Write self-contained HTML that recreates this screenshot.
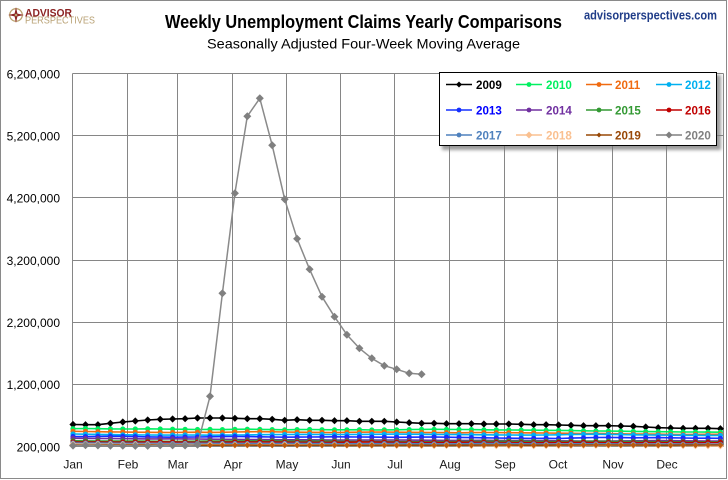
<!DOCTYPE html>
<html>
<head>
<meta charset="utf-8">
<style>
  html,body{margin:0;padding:0;background:#fff;}
  svg{display:block;}
  text{font-family:"Liberation Sans", Arial, sans-serif;}
</style>
</head>
<body>
<svg width="728" height="480" viewBox="0 0 728 480" xmlns="http://www.w3.org/2000/svg">
  <defs>
    <marker id="mk0" viewBox="-5 -5 10 10" refX="0" refY="0" markerWidth="10" markerHeight="10" markerUnits="userSpaceOnUse"><path d="M0,-3.6L3.6,0L0,3.6L-3.6,0Z" fill="#000"/></marker>
    <marker id="mk1" viewBox="-5 -5 10 10" refX="0" refY="0" markerWidth="10" markerHeight="10" markerUnits="userSpaceOnUse"><circle r="2.6" fill="#00F060"/></marker>
    <marker id="mk2" viewBox="-5 -5 10 10" refX="0" refY="0" markerWidth="10" markerHeight="10" markerUnits="userSpaceOnUse"><circle r="2.6" fill="#F06A10"/></marker>
    <marker id="mk3" viewBox="-5 -5 10 10" refX="0" refY="0" markerWidth="10" markerHeight="10" markerUnits="userSpaceOnUse"><circle r="2.6" fill="#00B0F0"/></marker>
    <marker id="mk4" viewBox="-5 -5 10 10" refX="0" refY="0" markerWidth="10" markerHeight="10" markerUnits="userSpaceOnUse"><circle r="2.6" fill="#1530FF"/></marker>
    <marker id="mk5" viewBox="-5 -5 10 10" refX="0" refY="0" markerWidth="10" markerHeight="10" markerUnits="userSpaceOnUse"><circle r="2.6" fill="#7030A0"/></marker>
    <marker id="mk6" viewBox="-5 -5 10 10" refX="0" refY="0" markerWidth="10" markerHeight="10" markerUnits="userSpaceOnUse"><circle r="2.6" fill="#339933"/></marker>
    <marker id="mk7" viewBox="-5 -5 10 10" refX="0" refY="0" markerWidth="10" markerHeight="10" markerUnits="userSpaceOnUse"><circle r="2.6" fill="#C00000"/></marker>
    <marker id="mk8" viewBox="-5 -5 10 10" refX="0" refY="0" markerWidth="10" markerHeight="10" markerUnits="userSpaceOnUse"><circle r="2.6" fill="#4F81BD"/></marker>
    <marker id="mk9" viewBox="-5 -5 10 10" refX="0" refY="0" markerWidth="10" markerHeight="10" markerUnits="userSpaceOnUse"><path d="M0,-3.6L3.6,0L0,3.6L-3.6,0Z" fill="#FAC090"/></marker>
    <marker id="mk10" viewBox="-5 -5 10 10" refX="0" refY="0" markerWidth="10" markerHeight="10" markerUnits="userSpaceOnUse"><path d="M0,-3L3,0L0,3L-3,0Z" fill="#B85A10"/></marker>
    <marker id="mk11" viewBox="-5 -5 10 10" refX="0" refY="0" markerWidth="10" markerHeight="10" markerUnits="userSpaceOnUse"><path d="M0,-4L4,0L0,4L-4,0Z" fill="#808080"/></marker>
    <filter id="shadow" x="-10%" y="-20%" width="130%" height="160%"><feGaussianBlur stdDeviation="1.6"/></filter>
  </defs>

  <!-- outer border -->
  <rect x="0.5" y="0.5" width="726" height="478" fill="#fff" stroke="#8a8a8a" stroke-width="1"/>

  <!-- logo -->
  <g>
    <circle cx="16" cy="15" r="6.3" fill="none" stroke="#BBA271" stroke-width="1.3"/>
    <path d="M16,7 L17.4,13.6 L24,15 L17.4,16.4 L16,23 L14.6,16.4 L8,15 L14.6,13.6Z" fill="#8C2323"/>
    <circle cx="16" cy="15" r="1.3" fill="#BBA271"/>
    <text x="25" y="16.3" font-size="10.6" font-weight="bold" fill="#8C2323" textLength="47" lengthAdjust="spacingAndGlyphs">ADVISOR</text>
    <text x="25" y="23.6" font-size="10.2" fill="#B9A275" textLength="70" lengthAdjust="spacingAndGlyphs">PERSPECTIVES</text>
  </g>

  <!-- titles -->
  <text x="363.5" y="28" font-size="18" font-weight="bold" fill="#000" text-anchor="middle" textLength="397" lengthAdjust="spacingAndGlyphs">Weekly Unemployment Claims Yearly Comparisons</text>
  <text x="363.5" y="48.5" font-size="14" fill="#000" text-anchor="middle" textLength="313" lengthAdjust="spacingAndGlyphs">Seasonally Adjusted Four-Week Moving Average</text>
  <text x="584" y="19.5" font-size="13" font-weight="bold" fill="#1F3C88" textLength="133" lengthAdjust="spacingAndGlyphs">advisorperspectives.com</text>

  <!-- gridlines -->
  <g stroke="#868686" stroke-width="1" fill="none">
    <line x1="72.5" y1="73.5" x2="723.5" y2="73.5"/>
    <line x1="72.5" y1="135.5" x2="723.5" y2="135.5"/>
    <line x1="72.5" y1="197.5" x2="723.5" y2="197.5"/>
    <line x1="72.5" y1="260.5" x2="723.5" y2="260.5"/>
    <line x1="72.5" y1="322.5" x2="723.5" y2="322.5"/>
    <line x1="72.5" y1="384.5" x2="723.5" y2="384.5"/>
    <line x1="72.5" y1="446.5" x2="723.5" y2="446.5"/>
    <line x1="72.5" y1="73.5" x2="72.5" y2="446.5"/>
    <line x1="127.5" y1="73.5" x2="127.5" y2="446.5"/>
    <line x1="177.5" y1="73.5" x2="177.5" y2="446.5"/>
    <line x1="232.5" y1="73.5" x2="232.5" y2="446.5"/>
    <line x1="286.5" y1="73.5" x2="286.5" y2="446.5"/>
    <line x1="340.5" y1="73.5" x2="340.5" y2="446.5"/>
    <line x1="394.5" y1="73.5" x2="394.5" y2="446.5"/>
    <line x1="449.5" y1="73.5" x2="449.5" y2="446.5"/>
    <line x1="504.5" y1="73.5" x2="504.5" y2="446.5"/>
    <line x1="557.5" y1="73.5" x2="557.5" y2="446.5"/>
    <line x1="612.5" y1="73.5" x2="612.5" y2="446.5"/>
    <line x1="666.5" y1="73.5" x2="666.5" y2="446.5"/>
    <line x1="723.5" y1="73.5" x2="723.5" y2="446.5"/>
  </g>

  <!-- y labels -->
  <g font-size="12" fill="#000" text-anchor="end">
    <text x="60" y="78.5">6,200,000</text>
    <text x="60" y="140.5">5,200,000</text>
    <text x="60" y="202.5">4,200,000</text>
    <text x="60" y="265">3,200,000</text>
    <text x="60" y="327">2,200,000</text>
    <text x="60" y="389">1,200,000</text>
    <text x="60" y="451.5">200,000</text>
  </g>

  <!-- x labels -->
  <g font-size="12" fill="#1a1a1a" text-anchor="middle">
    <text x="73" y="468.5">Jan</text>
    <text x="128" y="468.5">Feb</text>
    <text x="178" y="468.5">Mar</text>
    <text x="233" y="468.5">Apr</text>
    <text x="287" y="468.5">May</text>
    <text x="341" y="468.5">Jun</text>
    <text x="395" y="468.5">Jul</text>
    <text x="450" y="468.5">Aug</text>
    <text x="505" y="468.5">Sep</text>
    <text x="558" y="468.5">Oct</text>
    <text x="613" y="468.5">Nov</text>
    <text x="667" y="468.5">Dec</text>
  </g>

  <!-- series -->
  <g fill="none" stroke-linejoin="round">
    <polyline stroke="#000" stroke-width="1.6" marker-start="url(#mk0)" marker-mid="url(#mk0)" marker-end="url(#mk0)" points="73,424.5 85.5,424.7 97.9,424.7 110.4,423.3 122.8,422 135.3,421 147.7,420 160.2,419.3 172.6,419 185.1,418.7 197.5,418 210,418 222.4,418 234.9,418.3 247.3,418.7 259.8,418.7 272.2,419.3 284.7,420.3 297.1,419.7 309.6,420.3 322,420.3 334.5,420.7 346.9,420.7 359.4,421.3 371.8,421.3 384.3,421.3 396.7,422 409.2,422.7 421.6,423.3 434.1,423.3 446.5,423.7 459,423.7 471.4,423.7 483.9,424 496.3,424 508.8,424 521.2,424.3 533.7,424.7 546.1,424.7 558.6,425 571,425.3 583.5,425.7 595.9,425.7 608.4,425.7 620.8,426 633.3,426.3 645.7,427 658.2,427.7 670.6,428 683.1,428.3 695.5,428.3 708,428.3 720.4,428.7"/>
    <polyline stroke="#00F060" stroke-width="1.6" marker-start="url(#mk1)" marker-mid="url(#mk1)" marker-end="url(#mk1)" points="73,428.7 85.5,428.5 97.9,428.7 110.4,428.9 122.8,429 135.3,429 147.7,428.8 160.2,429 172.6,429.2 185.1,429.3 197.5,429.5 210,429.4 222.4,429.6 234.9,429.3 247.3,429.2 259.8,429.4 272.2,429.6 284.7,429.8 297.1,429.6 309.6,429.5 322,429.7 334.5,429.8 346.9,429.8 359.4,429.7 371.8,430 384.3,429.9 396.7,429.8 409.2,429.6 421.6,429.4 434.1,429.3 446.5,429.4 459,429.5 471.4,429.6 483.9,429.8 496.3,429.9 508.8,430 521.2,430.1 533.7,430.2 546.1,430.3 558.6,430.4 571,430.6 583.5,430.8 595.9,431 608.4,431.1 620.8,431.2 633.3,431.4 645.7,431.6 658.2,431.7 670.6,431.8 683.1,432 695.5,432 708,432.1 720.4,432.2"/>
    <polyline stroke="#F06A10" stroke-width="1.6" marker-start="url(#mk2)" marker-mid="url(#mk2)" marker-end="url(#mk2)" points="73,431.3 85.5,431.5 97.9,431.7 110.4,431.9 122.8,432 135.3,432.2 147.7,432.3 160.2,432.4 172.6,432.5 185.1,432.3 197.5,432.2 210,432.4 222.4,432.3 234.9,432 247.3,431.8 259.8,431.7 272.2,431.8 284.7,432 297.1,432.2 309.6,432.3 322,432.4 334.5,432.5 346.9,432.3 359.4,432.2 371.8,432.1 384.3,432 396.7,432.2 409.2,432.3 421.6,432.4 434.1,432.5 446.5,432.6 459,432.8 471.4,432.6 483.9,432.5 496.3,432.6 508.8,432.7 521.2,432.8 533.7,432.9 546.1,433 558.6,433.2 571,433.3 583.5,433.5 595.9,433.4 608.4,433.6 620.8,433.8 633.3,434 645.7,434.1 658.2,434.2 670.6,434.4 683.1,434.5 695.5,434.4 708,434.3 720.4,434.3"/>
    <polyline stroke="#00B0F0" stroke-width="1.6" marker-start="url(#mk3)" marker-mid="url(#mk3)" marker-end="url(#mk3)" points="73,434 85.5,434.2 97.9,434.4 110.4,434.6 122.8,434.8 135.3,434.9 147.7,435 160.2,435.1 172.6,435.1 185.1,435 197.5,435.1 210,435.2 222.4,435.1 234.9,435 247.3,434.9 259.8,434.7 272.2,434.6 284.7,434.5 297.1,434.4 309.6,434.4 322,434.5 334.5,434.6 346.9,434.5 359.4,434.4 371.8,434.3 384.3,434.2 396.7,434.1 409.2,434.2 421.6,434.3 434.1,434.4 446.5,434.5 459,434.6 471.4,434.7 483.9,434.8 496.3,434.9 508.8,435 521.2,435.1 533.7,435.1 546.1,435 558.6,434.8 571,434.5 583.5,434.3 595.9,434.2 608.4,434.4 620.8,434.6 633.3,434.8 645.7,435 658.2,435.1 670.6,435.2 683.1,435.3 695.5,435.3 708,435.4 720.4,435.4"/>
    <polyline stroke="#1530FF" stroke-width="1.6" marker-start="url(#mk4)" marker-mid="url(#mk4)" marker-end="url(#mk4)" points="73,436.5 85.5,436.6 97.9,436.4 110.4,436.2 122.8,436.3 135.3,436.6 147.7,436.9 160.2,437.1 172.6,437.2 185.1,437.1 197.5,437 210,436.8 222.4,436.6 234.9,436.5 247.3,436.6 259.8,436.8 272.2,437 284.7,437.2 297.1,437.1 309.6,437 322,436.9 334.5,436.8 346.9,436.9 359.4,437 371.8,437.1 384.3,437.2 396.7,437.3 409.2,437.2 421.6,437.1 434.1,437 446.5,437.2 459,437.4 471.4,437.6 483.9,437.8 496.3,438 508.8,438.2 521.2,438.3 533.7,438.4 546.1,438.3 558.6,438.5 571,438.1 583.5,437.8 595.9,437.5 608.4,437.4 620.8,437.6 633.3,437.8 645.7,437.7 658.2,437.6 670.6,437.8 683.1,438 695.5,438.2 708,438.2 720.4,438.3"/>
    <polyline stroke="#7030A0" stroke-width="1.6" marker-start="url(#mk5)" marker-mid="url(#mk5)" marker-end="url(#mk5)" points="73,438.2 85.5,438.4 97.9,438.5 110.4,438.6 122.8,438.7 135.3,438.8 147.7,438.9 160.2,438.9 172.6,438.8 185.1,438.9 197.5,439 210,439.2 222.4,439.3 234.9,439.4 247.3,439.5 259.8,439.6 272.2,439.7 284.7,439.8 297.1,439.8 309.6,439.8 322,439.9 334.5,440 346.9,440 359.4,440.1 371.8,440.1 384.3,440 396.7,440 409.2,440.1 421.6,440.2 434.1,440.3 446.5,440.4 459,440.4 471.4,440.4 483.9,440.3 496.3,440.4 508.8,440.5 521.2,440.6 533.7,440.7 546.1,440.7 558.6,440.8 571,440.9 583.5,441 595.9,441 608.4,441 620.8,440.9 633.3,440.8 645.7,440.7 658.2,440.6 670.6,440.7 683.1,440.8 695.5,440.9 708,441 720.4,441"/>
    <polyline stroke="#339933" stroke-width="1.6" marker-start="url(#mk6)" marker-mid="url(#mk6)" marker-end="url(#mk6)" points="73,440.8 85.5,440.9 97.9,441 110.4,441 122.8,441.1 135.3,441.1 147.7,441.2 160.2,441.3 172.6,441.4 185.1,441.3 197.5,441.2 210,441.1 222.4,441.1 234.9,441 247.3,440.9 259.8,440.9 272.2,441 284.7,441.1 297.1,441.2 309.6,441.2 322,441.2 334.5,441.3 346.9,441.4 359.4,441.5 371.8,441.5 384.3,441.6 396.7,441.6 409.2,441.7 421.6,441.8 434.1,441.8 446.5,441.6 459,441.5 471.4,441.4 483.9,441.3 496.3,441.3 508.8,441.3 521.2,441.4 533.7,441.5 546.1,441.6 558.6,441.5 571,441.4 583.5,441.3 595.9,441.3 608.4,441.4 620.8,441.5 633.3,441.6 645.7,441.6 658.2,441.7 670.6,441.7 683.1,441.8 695.5,441.8 708,441.8 720.4,441.9"/>
    <polyline stroke="#C00000" stroke-width="1.6" marker-start="url(#mk7)" marker-mid="url(#mk7)" marker-end="url(#mk7)" points="73,442 85.5,442.1 97.9,442.1 110.4,442.2 122.8,442.2 135.3,442.1 147.7,442 160.2,442 172.6,442.1 185.1,442.2 197.5,442.3 210,442.3 222.4,442.2 234.9,442.1 247.3,442 259.8,442 272.2,442.1 284.7,442.2 297.1,442.3 309.6,442.3 322,442.4 334.5,442.3 346.9,442.2 359.4,442.1 371.8,442.1 384.3,442.2 396.7,442.3 409.2,442.4 421.6,442.5 434.1,442.5 446.5,442.4 459,442.3 471.4,442.3 483.9,442.4 496.3,442.5 508.8,442.6 521.2,442.7 533.7,442.7 546.1,442.6 558.6,442.5 571,442.4 583.5,442.4 595.9,442.5 608.4,442.6 620.8,442.7 633.3,442.7 645.7,442.6 658.2,442.5 670.6,442.5 683.1,442.6 695.5,442.6 708,442.5 720.4,442.5"/>
    <polyline stroke="#4F81BD" stroke-width="1.6" marker-start="url(#mk8)" marker-mid="url(#mk8)" marker-end="url(#mk8)" points="73,443 85.5,443 97.9,443.1 110.4,443.2 122.8,443.3 135.3,443.3 147.7,443.4 160.2,443.5 172.6,443.5 185.1,443.4 197.5,443.3 210,443.3 222.4,443.4 234.9,443.5 247.3,443.6 259.8,443.6 272.2,443.5 284.7,443.4 297.1,443.4 309.6,443.5 322,443.6 334.5,443.7 346.9,443.8 359.4,443.8 371.8,443.7 384.3,443.6 396.7,443.6 409.2,443.7 421.6,443.8 434.1,443.9 446.5,443.9 459,443.8 471.4,443.7 483.9,443.6 496.3,443.6 508.8,443.7 521.2,443.8 533.7,443.9 546.1,444 558.6,444 571,443.9 583.5,443.8 595.9,443.8 608.4,443.9 620.8,444 633.3,444.1 645.7,444.1 658.2,444 670.6,444 683.1,444.1 695.5,444.2 708,444.2 720.4,444.3"/>
    <polyline stroke="#FAC090" stroke-width="1.8" marker-start="url(#mk9)" marker-mid="url(#mk9)" marker-end="url(#mk9)" points="73,444.3 85.5,444.4 97.9,444.4 110.4,444.5 122.8,444.6 135.3,444.6 147.7,444.7 160.2,444.8 172.6,444.8 185.1,444.7 197.5,444.7 210,444.8 222.4,444.9 234.9,445 247.3,445 259.8,445 272.2,444.9 284.7,444.9 297.1,445 309.6,445.1 322,445.1 334.5,445.2 346.9,445.2 359.4,445.3 371.8,445.3 384.3,445.3 396.7,445.4 409.2,445.4 421.6,445.5 434.1,445.5 446.5,445.4 459,445.4 471.4,445.5 483.9,445.6 496.3,445.6 508.8,445.7 521.2,445.7 533.7,445.6 546.1,445.5 558.6,445.5 571,445.4 583.5,445.3 595.9,445.3 608.4,445.2 620.8,445.2 633.3,445.3 645.7,445.3 658.2,445.4 670.6,445.4 683.1,445.5 695.5,445.6 708,445.7 720.4,445.8"/>
    <polyline stroke="#984807" stroke-width="1.6" marker-start="url(#mk10)" marker-mid="url(#mk10)" marker-end="url(#mk10)" points="73,445 85.5,445 97.9,445.1 110.4,445.1 122.8,445.1 135.3,445 147.7,445 160.2,445 172.6,445.1 185.1,445.1 197.5,445.2 210,445.2 222.4,445.2 234.9,445.1 247.3,445.1 259.8,445.2 272.2,445.2 284.7,445.3 297.1,445.3 309.6,445.2 322,445.2 334.5,445.2 346.9,445.3 359.4,445.3 371.8,445.3 384.3,445.2 396.7,445.2 409.2,445.2 421.6,445.3 434.1,445.3 446.5,445.3 459,445.2 471.4,445.2 483.9,445.1 496.3,445.1 508.8,445.1 521.2,445.2 533.7,445.2 546.1,445.2 558.6,445.1 571,445.1 583.5,445 595.9,445 608.4,445 620.8,445.1 633.3,445.1 645.7,445.1 658.2,445.2 670.6,445.2 683.1,445.1 695.5,445.1 708,445 720.4,445"/>
    <polyline stroke="#8a8a8a" stroke-width="1.5" marker-start="url(#mk11)" marker-mid="url(#mk11)" marker-end="url(#mk11)" points="73,445.6 85.5,445.3 97.9,445.5 110.4,445.8 122.8,445.7 135.3,445.9 147.7,445.9 160.2,445.4 172.6,445.4 185.1,445.5 197.5,444.8 210,396.3 222.4,293.3 234.9,193.3 247.3,116.3 259.8,98.3 272.2,145.3 284.7,199.3 297.1,238.7 309.6,269.3 322,296.7 334.5,316.7 346.9,334.7 359.4,348.3 371.8,358.3 384.3,365.7 396.7,369.3 409.2,373.3 421.6,374.3"/>
  </g>

  <!-- legend -->
  <rect x="442" y="75" width="279" height="75" fill="#7a7a7a" opacity="0.75" filter="url(#shadow)"/>
  <rect x="439.5" y="72.5" width="277" height="73" fill="#fff" stroke="#000" stroke-width="1"/>
  <g font-size="11.6" font-weight="bold" stroke-width="1.5">
    <line x1="446" y1="84.5" x2="472" y2="84.5" stroke="#000"/><path d="M459,81.5L462,84.5L459,87.5L456,84.5Z" fill="#000"/>
    <text x="476" y="88.8" fill="#000">2009</text>
    <line x1="516" y1="84.5" x2="542" y2="84.5" stroke="#00F060"/><circle cx="529" cy="84.5" r="2.4" fill="#00F060"/>
    <text x="546" y="88.8" fill="#00F060">2010</text>
    <line x1="586" y1="84.5" x2="612" y2="84.5" stroke="#F06A10"/><circle cx="599" cy="84.5" r="2.4" fill="#F06A10"/>
    <text x="615" y="88.8" fill="#F06A10">2011</text>
    <line x1="656" y1="84.5" x2="682" y2="84.5" stroke="#00B0F0"/><circle cx="669" cy="84.5" r="2.4" fill="#00B0F0"/>
    <text x="685" y="88.8" fill="#00B0F0">2012</text>

    <line x1="446" y1="110" x2="472" y2="110" stroke="#1530FF"/><circle cx="459" cy="110" r="2.4" fill="#1530FF"/>
    <text x="476" y="114.3" fill="#0000FF">2013</text>
    <line x1="516" y1="110" x2="542" y2="110" stroke="#7030A0"/><circle cx="529" cy="110" r="2.4" fill="#7030A0"/>
    <text x="546" y="114.3" fill="#7030A0">2014</text>
    <line x1="586" y1="110" x2="612" y2="110" stroke="#339933"/><circle cx="599" cy="110" r="2.4" fill="#339933"/>
    <text x="615" y="114.3" fill="#339933">2015</text>
    <line x1="656" y1="110" x2="682" y2="110" stroke="#C00000"/><circle cx="669" cy="110" r="2.4" fill="#C00000"/>
    <text x="685" y="114.3" fill="#C00000">2016</text>

    <line x1="446" y1="135" x2="472" y2="135" stroke="#4F81BD"/><circle cx="459" cy="135" r="2.4" fill="#4F81BD"/>
    <text x="476" y="139.3" fill="#4F81BD">2017</text>
    <line x1="516" y1="135" x2="542" y2="135" stroke="#FAC090"/><path d="M529,131.5L532.5,135L529,138.5L525.5,135Z" fill="#FAC090"/>
    <text x="546" y="139.3" fill="#FAC090">2018</text>
    <line x1="586" y1="135" x2="612" y2="135" stroke="#984807"/><path d="M599,132.5L601.5,135L599,137.5L596.5,135Z" fill="#984807"/>
    <text x="615" y="139.3" fill="#984807">2019</text>
    <line x1="656" y1="135" x2="682" y2="135" stroke="#808080"/><path d="M669,131.5L672.5,135L669,138.5L665.5,135Z" fill="#808080"/>
    <text x="685" y="139.3" fill="#808080">2020</text>
  </g>
</svg>
</body>
</html>
